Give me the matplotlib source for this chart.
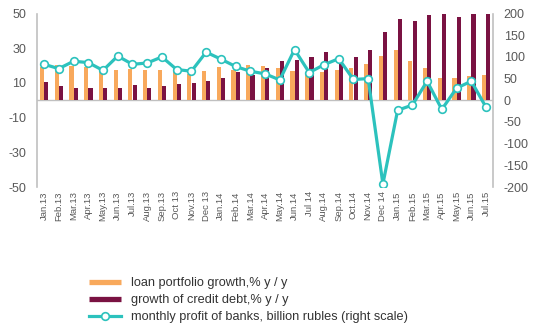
import numpy as np
import matplotlib
matplotlib.use('Agg')
import matplotlib.pyplot as plt
from matplotlib.lines import Line2D

months = ["Jan.13", "Feb.13", "Mar.13", "Apr.13", "May.13", "Jun.13", "Jul.13",
          "Aug.13", "Sep.13", "Oct 13", "Nov.13", "Dec 13", "Jan.14", "Feb.14",
          "Mar.14", "Apr.14", "May.14", "Jun.14", "Jul 14", "Aug.14", "Sep.14",
          "Oct.14", "Nov.14", "Dec 14", "Jan.15", "Feb.15", "Mar.15", "Apr.15",
          "May.15", "Jun.15", "Jul.15"]

loan_growth = [19.2, 20.5, 19.5, 19.2, 16.5, 17.2, 17.8, 17.2, 17.4, 16.3, 15.3,
               16.7, 19.2, 17.6, 20.1, 19.5, 18.6, 16.9, 16.3, 16.3, 17.2, 18.8,
               21.0, 25.3, 29.1, 22.6, 18.6, 13.0, 13.0, 14.2, 14.6]

credit_debt = [10.7, 8.3, 7.3, 7.3, 7.1, 7.0, 8.6, 6.8, 8.2, 9.6, 10.0, 10.9,
               12.8, 16.4, 14.8, 18.7, 22.8, 23.4, 24.8, 27.7, 24.9, 25.2, 28.9,
               39.3, 47.0, 46.0, 49.2, 50.0, 48.0, 50.0, 50.0]

profit = [83, 73, 90, 87, 69, 102, 83, 86, 100, 71, 67, 111, 95, 78, 67, 61,
          47, 117, 64, 82, 96, 48, 50, -193, -23, -11, 44, -21, 28, 44, -16]

left_ticks = [50, 30, 10, -10, -30, -50]
right_ticks = [200, 150, 100, 50, 0, -50, -100, -150, -200]

legend_labels = ["loan portfolio growth,% y / y",
                 "growth of credit debt,% y / y",
                 "monthly profit of banks, billion rubles (right scale)"]

orange = '#F8A95C'
maroon = '#7A1242'
teal = '#2CC2BD'
gray_txt = '#595959'
gray_line = '#C0C0C0'

plt.rcParams['font.family'] = ['Liberation Sans', 'DejaVu Sans']

fig = plt.figure(figsize=(5.42, 3.31), dpi=100)
ax = fig.add_axes([0.0677, 0.435, 0.9103 - 0.0677, 0.959 - 0.435])
x = np.arange(len(months))
ax.bar(x - 0.14, loan_growth, width=0.28, color=orange, zorder=2)
ax.bar(x + 0.15, credit_debt, width=0.28, color=maroon, zorder=2)
ax.axhline(0, color=gray_line, lw=1, zorder=1)
ax.set_xlim(-0.5, 30.5)
ax.set_ylim(-50, 50)
ax.set_yticks(left_ticks)
ax.set_yticklabels([str(v) for v in left_ticks])
ax.set_xticks(x)
ax.set_xticklabels(months, rotation=90, fontsize=6.8, color=gray_txt)
ax.tick_params(axis='y', length=0, pad=7.5, labelsize=9, labelcolor=gray_txt)
ax.tick_params(axis='x', length=0, pad=3)
for s in ['top', 'bottom', 'right']:
    ax.spines[s].set_visible(False)
ax.spines['left'].set_color(gray_line)
ax.spines['left'].set_linewidth(1.2)

ax2 = ax.twinx()
ax2.plot(x, profit, color=teal, lw=2.3, marker='o', ms=5.5, mfc='white',
         mec=teal, mew=1.2, zorder=3)
ax2.set_ylim(-200, 200)
ax2.set_yticks(right_ticks)
ax2.set_yticklabels([str(v) for v in right_ticks])
ax2.tick_params(axis='y', length=0, pad=7.5, labelsize=9, labelcolor=gray_txt)
for s in ['top', 'bottom', 'left']:
    ax2.spines[s].set_visible(False)
ax2.spines['right'].set_color(gray_line)
ax2.spines['right'].set_linewidth(1.2)

handles = [Line2D([0], [0], color=orange, lw=3.8, solid_capstyle='butt'),
           Line2D([0], [0], color=maroon, lw=3.8, solid_capstyle='butt'),
           Line2D([0], [0], color=teal, lw=2.3, marker='o', ms=5.5,
                  mfc='white', mec=teal, mew=1.2)]
fig.legend(handles, legend_labels, loc='upper left',
           bbox_to_anchor=(0.165, 0.162), frameon=False, fontsize=9.2,
           handlelength=2.5, handletextpad=0.75, labelspacing=0.38,
           borderpad=0, borderaxespad=0, labelcolor='#333333')

fig.savefig('out.png', dpi=100)
